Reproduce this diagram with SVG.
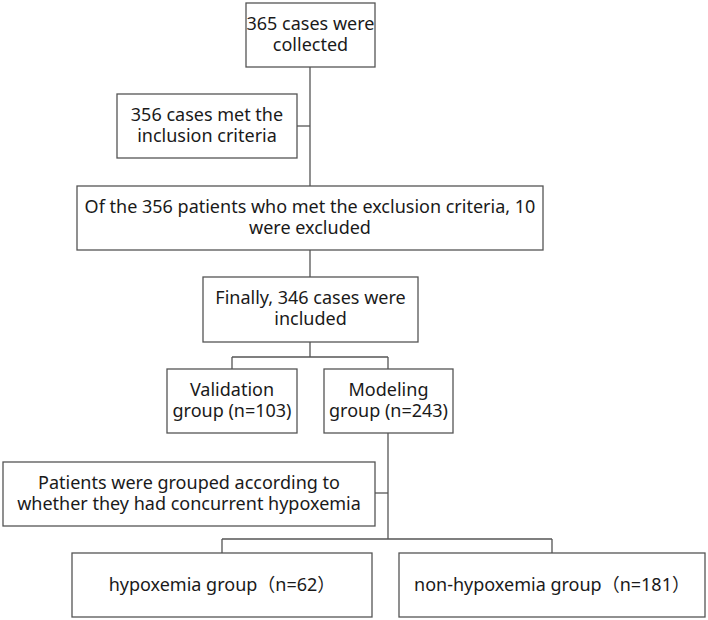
<svg xmlns="http://www.w3.org/2000/svg" width="708" height="620" viewBox="0 0 708 620">
<style>
.box{fill:#fff;stroke:#555;stroke-width:1.3}
.ln{fill:none;stroke:#555;stroke-width:1.3}
text{font-family:"Noto Sans","Noto Sans CJK SC",sans-serif;font-size:18px;fill:#1a1a1a;text-anchor:middle}
</style>
<rect width="708" height="620" fill="#fff"/>
<g id="connectors">
<path class="ln" d="M310,67V186"/>
<path class="ln" d="M297,126H310"/>
<path class="ln" d="M310,250V277"/>
<path class="ln" d="M310,342V357M232,357H388M232,357V369M388,357V369"/>
<path class="ln" d="M388,433V539"/>
<path class="ln" d="M375,493H388"/>
<path class="ln" d="M222,539H552M222,539V553M552,539V553"/>
</g>
<g id="n1"><rect class="box" x="246" y="3" width="129" height="64"/><text x="310.5" y="30">365 cases were</text><text x="310.5" y="51">collected</text></g>
<g id="n2"><rect class="box" x="117" y="94" width="180" height="64"/><text x="207" y="121">356 cases met the</text><text x="207" y="142">inclusion criteria</text></g>
<g id="n3"><rect class="box" x="77" y="186" width="466" height="64"/><text x="310" y="213">Of the 356 patients who met the exclusion criteria, 10</text><text x="310" y="234">were excluded</text></g>
<g id="n4"><rect class="box" x="203" y="277" width="215" height="65"/><text x="310.5" y="304">Finally, 346 cases were</text><text x="310.5" y="325">included</text></g>
<g id="n5"><rect class="box" x="167" y="369" width="130" height="64"/><text x="232" y="396">Validation</text><text x="232" y="417">group (n=103)</text></g>
<g id="n6"><rect class="box" x="324" y="369" width="129" height="64"/><text x="388.5" y="396">Modeling</text><text x="388.5" y="417">group (n=243)</text></g>
<g id="n7"><rect class="box" x="3" y="462" width="372" height="64"/><text x="189" y="489">Patients were grouped according to</text><text x="189" y="510">whether they had concurrent hypoxemia</text></g>
<g id="n8"><rect class="box" x="72" y="553" width="300" height="64"/><text x="222" y="591">hypoxemia group（n=62）</text></g>
<g id="n9"><rect class="box" x="399" y="553" width="306" height="64"/><text x="552" y="591">non-hypoxemia group（n=181）</text></g>
</svg>
